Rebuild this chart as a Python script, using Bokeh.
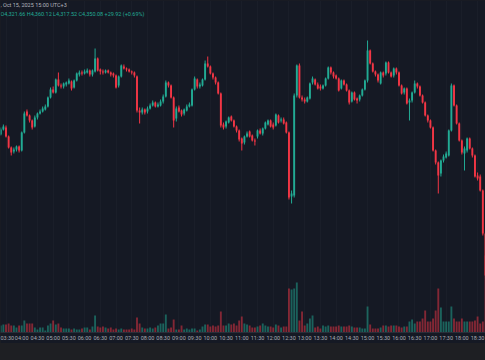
import datetime as dt
from bokeh.plotting import figure
from bokeh.models import Range1d, FixedTicker, ColumnDataSource, Label, DatetimeTickFormatter
from bokeh.embed import file_html
from bokeh.resources import INLINE

# ---------------- data (5-minute candles, Oct 15 2025, UTC+3) ----------------
start_time = "2025-10-15 03:20"
open_ = [4266,4271,4273,4264,4253,4249,4251,4254,4250,4268,4289,4285,4280,4274,4283,4287,4289,4291,4294,4303,
         4311,4308,4321,4315,4314,4316,4317,4319,4313,4320,4326,4328,4327,4328,4330,4326,4329,4342,4331,4329,
         4328,4330,4328,4327,4325,4315,4324,4334,4332,4331,4329,4328,4324,4290,4288,4291,4289,4292,4295,4298,
         4294,4295,4299,4304,4318,4315,4303,4282,4293,4290,4287,4290,4294,4295,4311,4321,4314,4315,4321,4337,
         4334,4327,4323,4318,4307,4276,4274,4278,4284,4280,4274,4270,4262,4258,4264,4269,4265,4260,4264,4270,
         4267,4272,4276,4280,4276,4275,4285,4280,4281,4278,4268,4204,4205,4305,4335,4303,4301,4299,4302,4318,
         4321,4316,4314,4312,4315,4322,4333,4328,4325,4322,4312,4320,4316,4310,4299,4308,4302,4301,4305,4311,
         4320,4350,4337,4329,4326,4317,4328,4327,4338,4328,4325,4332,4328,4315,4308,4312,4298,4300,4308,4317,
         4314,4305,4298,4285,4280,4273,4250,4238,4227,4240,4243,4245,4270,4315,4295,4277,4260,4247,4250,4262,
         4252,4245,4225,4224,4210,4167]
high = [4273,4276,4275,4265,4254,4253,4255,4255,4269,4289,4291,4286,4281,4285,4288,4291,4294,4296,4304,4313,
        4314,4322,4328,4317,4318,4319,4322,4320,4321,4328,4330,4330,4331,4332,4331,4331,4352,4343,4332,4331,
        4331,4331,4329,4328,4326,4325,4336,4336,4333,4332,4330,4329,4325,4293,4293,4292,4294,4297,4300,4299,
        4298,4301,4306,4320,4319,4316,4304,4294,4295,4291,4292,4296,4298,4312,4324,4322,4318,4322,4340,4344,
        4335,4328,4324,4319,4308,4278,4280,4284,4285,4281,4275,4271,4263,4265,4269,4270,4266,4262,4271,4272,
        4273,4279,4281,4281,4278,4287,4286,4283,4283,4279,4269,4210,4307,4336,4337,4305,4303,4304,4318,4324,
        4322,4318,4316,4316,4323,4334,4334,4329,4326,4323,4321,4321,4317,4311,4309,4309,4303,4306,4312,4321,
        4360,4351,4338,4330,4327,4329,4329,4339,4339,4329,4333,4333,4329,4316,4313,4313,4302,4309,4320,4318,
        4315,4306,4299,4286,4281,4274,4251,4239,4241,4246,4249,4271,4317,4316,4296,4278,4261,4254,4263,4263,
        4253,4246,4228,4226,4211,4169]
low = [4265,4270,4263,4252,4245,4247,4249,4248,4249,4267,4284,4278,4271,4273,4281,4286,4288,4290,4293,4302,
       4307,4307,4314,4312,4312,4314,4316,4310,4312,4319,4324,4325,4326,4327,4324,4324,4328,4329,4326,4326,
       4327,4327,4324,4323,4312,4313,4323,4331,4329,4328,4326,4323,4288,4277,4286,4286,4287,4291,4294,4293,
       4293,4294,4297,4303,4313,4302,4273,4279,4288,4284,4285,4289,4293,4294,4310,4312,4312,4314,4320,4333,
       4326,4321,4316,4306,4273,4271,4272,4277,4279,4273,4268,4259,4250,4256,4263,4263,4259,4255,4262,4266,
       4265,4271,4275,4273,4271,4274,4277,4278,4276,4267,4201,4197,4203,4303,4302,4299,4297,4298,4301,4316,
       4315,4311,4310,4311,4314,4321,4326,4322,4321,4309,4311,4315,4309,4296,4298,4300,4297,4299,4304,4310,
       4318,4336,4328,4324,4318,4316,4323,4325,4327,4323,4323,4326,4314,4306,4306,4296,4280,4298,4307,4312,
       4304,4297,4284,4278,4272,4249,4236,4207,4224,4238,4242,4244,4269,4294,4276,4259,4246,4230,4248,4251,
       4243,4223,4220,4209,4165,4122]
close = [4271,4274,4264,4253,4248,4251,4254,4250,4268,4287,4285,4280,4273,4283,4287,4289,4292,4294,4303,4311,
         4308,4321,4315,4314,4317,4318,4320,4312,4320,4327,4328,4327,4329,4330,4326,4330,4342,4330,4329,4328,
         4330,4328,4326,4325,4313,4324,4335,4332,4331,4329,4328,4325,4290,4288,4291,4288,4292,4295,4298,4294,
         4296,4299,4304,4318,4315,4303,4280,4292,4289,4286,4291,4294,4296,4311,4322,4314,4316,4321,4337,4334,
         4327,4323,4318,4307,4275,4273,4279,4283,4280,4274,4270,4261,4257,4264,4267,4264,4260,4259,4270,4267,
         4272,4278,4280,4274,4273,4286,4278,4281,4277,4268,4203,4207,4305,4335,4303,4301,4299,4303,4317,4322,
         4316,4312,4312,4315,4322,4333,4328,4324,4322,4310,4320,4316,4310,4298,4308,4301,4300,4305,4311,4320,
         4350,4337,4329,4326,4320,4328,4325,4338,4328,4324,4332,4328,4315,4307,4312,4297,4300,4308,4317,4314,
         4305,4298,4285,4280,4273,4250,4238,4225,4240,4244,4247,4270,4315,4295,4277,4260,4248,4252,4262,4252,
         4245,4224,4222,4210,4167,4125]
volume = [7,8,8,9,7,7,5,7,7,12,9,9,9,5,3,5,5,2,7,9,12,8,9,5,4,4,4,3,4,3,
          3,4,5,5,3,6,17,6,5,6,5,4,5,3,4,3,4,3,3,3,4,3,15,9,5,4,4,5,4,5,
          7,9,9,18,4,5,13,3,3,7,3,4,3,4,4,2,3,6,8,8,6,7,6,7,21,7,7,9,8,9,
          7,12,16,9,8,7,5,5,6,7,9,7,6,6,5,8,7,5,6,6,44,43,44,50,12,21,7,9,14,17,
          5,6,4,7,6,7,6,6,6,7,6,6,6,7,6,5,5,5,4,4,26,8,4,4,4,5,7,7,6,7,
          7,7,6,5,6,6,11,13,9,11,11,14,22,11,11,14,22,44,25,11,11,11,26,14,11,11,
          14,11,11,11,11,12,16,9,11,77]
tick_labels = ["03:30","04:00","04:30","05:00","05:30","06:00","06:30","07:00","07:30","08:00",
               "08:30","09:00","09:30","10:00","10:30","11:00","11:30","12:00","12:30","13:00",
               "13:30","14:00","14:30","15:00","15:30","16:00","16:30","17:00","17:30","18:00","18:30"]
header_line1 = ", Oct 15, 2025 15:00 UTC+3"
header_line2 = "O4,321.66  H4,360.12  L4,317.52  C4,350.08  +29.92 (+0.69%)"

# ---------------- build ----------------
BG = "#151924"
UP = "#22ab94"
DOWN = "#f23645"

t0 = dt.datetime.strptime(start_time, "%Y-%m-%d %H:%M")
step = dt.timedelta(minutes=5)
n = len(close)
times = [t0 + i * step for i in range(n)]
colors = [UP if c >= o else DOWN for o, c in zip(open_, close)]
src = ColumnDataSource(dict(t=times, o=open_, h=high, l=low, c=close, v=volume,
                            top=[max(o, c) for o, c in zip(open_, close)],
                            bot=[min(o, c) for o, c in zip(open_, close)],
                            col=colors))

epoch = dt.datetime(1970, 1, 1)
def ms(d):
    return (d - epoch).total_seconds() * 1000.0

day = start_time.split(" ")[0]
ticks = [ms(dt.datetime.strptime(day + " " + s, "%Y-%m-%d %H:%M")) for s in tick_labels]

x_start = t0 - dt.timedelta(seconds=30)
x_end = x_start + dt.timedelta(minutes=925.6)

p = figure(frame_width=485, frame_height=332, x_axis_type="datetime", y_axis_location=None,
           output_backend="svg", toolbar_location=None,
           x_range=Range1d(x_start, x_end), y_range=Range1d(4068, 4400),
           background_fill_color=BG, border_fill_color=BG, outline_line_color=None,
           min_border=0, min_border_left=0, min_border_right=0, min_border_top=0, min_border_bottom=0)

p.extra_y_ranges = {"vol": Range1d(0, 332)}

width_ms = 5 * 60 * 1000 * 0.72
p.vbar(x="t", top="v", bottom=0, width=width_ms, source=src, y_range_name="vol",
       fill_color="col", line_color=None, fill_alpha=0.5)
p.segment(x0="t", y0="h", x1="t", y1="l", source=src, line_color="col", line_width=1)
p.vbar(x="t", top="top", bottom="bot", width=width_ms, source=src, fill_color="col", line_color=None)

p.xaxis.ticker = FixedTicker(ticks=ticks)
p.xaxis.formatter = DatetimeTickFormatter(minutes="%H:%M", hours="%H:%M", hourmin="%H:%M", days="%H:%M")
p.xaxis.major_tick_line_color = None
p.xaxis.minor_tick_line_color = None
p.xaxis.major_tick_out = 0
p.xaxis.major_tick_in = 0
p.xaxis.minor_tick_out = 0
p.xaxis.minor_tick_in = 0
p.xaxis.axis_line_color = "#2a2e39"
p.xaxis.major_label_text_color = "#a9acb5"
p.xaxis.major_label_text_font_size = "5.5px"
p.xaxis.major_label_text_font = "Roboto"
p.xaxis.major_label_standoff = 2
p.xgrid.ticker = FixedTicker(ticks=ticks)
p.xgrid.grid_line_color = "#1a1e29"
p.ygrid.grid_line_color = None

p.add_layout(Label(x=0, y=331, x_units="screen", y_units="screen", text=header_line1,
                   text_font="Roboto", text_font_size="5.5px", text_color="#b2b5be",
                   text_baseline="top"))
p.add_layout(Label(x=0, y=322, x_units="screen", y_units="screen", text=header_line2,
                   text_font="Roboto", text_font_size="5.5px", text_color="#22ab94",
                   text_baseline="top"))

html = file_html(p, INLINE)
html = html.replace("<head>", "<head><style>html,body{margin:0;padding:0;background:#1e1f23;}</style>", 1)
open("out.html", "w").write(html)
